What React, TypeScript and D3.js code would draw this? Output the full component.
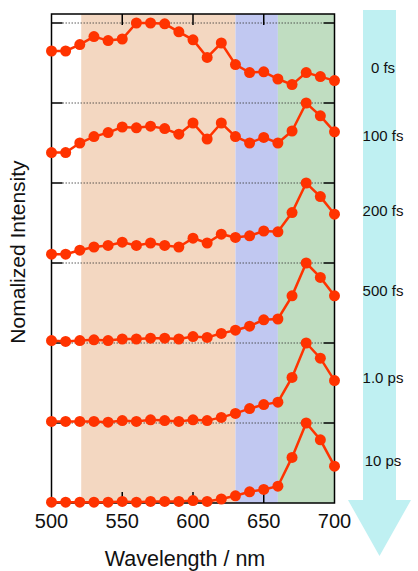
import { useMemo } from "react";
import * as d3 from "d3";

const wavelengths = [500, 510, 520, 530, 540, 550, 560, 570, 580, 590, 600, 610, 620, 630, 640, 650, 660, 670, 680, 690, 700];
const delayLabels = ["0 fs", "100 fs", "200 fs", "500 fs", "1.0 ps", "10 ps"];

const spectrum0fs = [0.65, 0.65, 0.73, 0.83, 0.78, 0.8, 1.0, 1.0, 0.99, 0.89, 0.79, 0.57, 0.75, 0.48, 0.38, 0.39, 0.3, 0.23, 0.38, 0.33, 0.28];
const spectrum100fs = [0.38, 0.38, 0.5, 0.58, 0.63, 0.7, 0.69, 0.71, 0.68, 0.61, 0.75, 0.55, 0.75, 0.58, 0.5, 0.57, 0.5, 0.65, 1.0, 0.84, 0.64];
const spectrum200fs = [0.11, 0.11, 0.16, 0.2, 0.22, 0.26, 0.22, 0.25, 0.22, 0.2, 0.31, 0.25, 0.36, 0.32, 0.34, 0.4, 0.39, 0.63, 1.0, 0.83, 0.61];
const spectrum500fs = [0.03, 0.02, 0.03, 0.04, 0.03, 0.05, 0.05, 0.06, 0.06, 0.05, 0.08, 0.07, 0.12, 0.16, 0.21, 0.29, 0.3, 0.59, 1.0, 0.82, 0.59];
const spectrum1ps = [0.02, 0.02, 0.02, 0.02, 0.01, 0.03, 0.02, 0.04, 0.03, 0.02, 0.04, 0.03, 0.07, 0.12, 0.18, 0.23, 0.26, 0.57, 1.0, 0.81, 0.53];
const spectrum10ps = [0.01, 0.01, 0.01, 0.01, 0.01, 0.02, 0.01, 0.02, 0.02, 0.02, 0.03, 0.02, 0.05, 0.09, 0.14, 0.17, 0.21, 0.57, 1.0, 0.79, 0.46];

const spectra = [spectrum0fs, spectrum100fs, spectrum200fs, spectrum500fs, spectrum1ps, spectrum10ps];

// shaded spectral bands [start, end] in nm
const bandEdges = [
  [521, 630],
  [630, 660],
  [660, 700],
];
const bandColors = ["#f3d7c1", "#c1c8f1", "#c0ddc1"];

const xTicks = [500, 550, 600, 650, 700];
const yTicks = [1, 2, 3, 4, 5, 6];

const width = 418;
const height = 571;
const plot = { left: 51.5, right: 334.5, top: 14, bottom: 503 };
const traceColor = "#ff3300";
const font = "'Liberation Sans', Arial, Helvetica, sans-serif";
const labelY = [68, 136, 211, 291, 378, 461];

export default function App() {
  const x = useMemo(() => d3.scaleLinear().domain([500, 700]).range([plot.left, plot.right]), []);
  const y = useMemo(
    () => d3.scaleLinear().domain([0, (plot.bottom - plot.top) / 80]).range([plot.bottom, plot.top]),
    []
  );

  const line = d3
    .line<number>()
    .x((_, i) => x(wavelengths[i]))
    .y((d) => d);

  const arrow = d3.path();
  arrow.moveTo(363, 10);
  arrow.lineTo(396, 10);
  arrow.lineTo(396, 500);
  arrow.lineTo(411, 500);
  arrow.lineTo(379.5, 556);
  arrow.lineTo(348, 500);
  arrow.lineTo(363, 500);
  arrow.closePath();

  return (
    <svg
      width={width}
      height={height}
      style={{ position: "absolute", left: 0, top: 0, background: "#fff" }}
      fontFamily={font}
    >
      <path d={arrow.toString()} fill="#bff0f2" />

      {bandEdges.map(([a, b], i) => (
        <rect
          key={i}
          x={x(a)}
          y={plot.top}
          width={x(b) - x(a)}
          height={plot.bottom - plot.top}
          fill={bandColors[i]}
        />
      ))}

      {yTicks.map((t) => (
        <g key={t}>
          <line
            x1={plot.left + 11}
            x2={plot.right - 11}
            y1={y(t)}
            y2={y(t)}
            stroke="#333"
            strokeWidth={0.8}
            strokeDasharray="1.5,1.5"
          />
          <line x1={plot.left} x2={plot.left + 11} y1={y(t)} y2={y(t)} stroke="#000" strokeWidth={1.5} />
          <line x1={plot.right - 11} x2={plot.right} y1={y(t)} y2={y(t)} stroke="#000" strokeWidth={1.5} />
        </g>
      ))}

      {xTicks.slice(1, -1).map((t) => (
        <g key={t}>
          <line x1={x(t)} x2={x(t)} y1={plot.top} y2={plot.top + 11} stroke="#000" strokeWidth={1.5} />
          <line x1={x(t)} x2={x(t)} y1={plot.bottom} y2={plot.bottom - 11} stroke="#000" strokeWidth={1.5} />
        </g>
      ))}

      <rect
        x={plot.left}
        y={plot.top}
        width={plot.right - plot.left}
        height={plot.bottom - plot.top}
        fill="none"
        stroke="#000"
        strokeWidth={1.5}
      />

      {spectra.map((values, k) => {
        const offset = spectra.length - 1 - k;
        const ys = values.map((v) => y(offset + v));
        return (
          <g key={k}>
            <path d={line(ys) ?? ""} fill="none" stroke={traceColor} strokeWidth={2.5} />
            {ys.map((py, i) => (
              <circle key={i} cx={x(wavelengths[i])} cy={py} r={5.5} fill={traceColor} />
            ))}
          </g>
        );
      })}

      {xTicks.map((t) => (
        <text key={t} x={x(t)} y={527.5} textAnchor="middle" fontSize={20} fill="#111">
          {t}
        </text>
      ))}

      <text x={185} y={566} textAnchor="middle" fontSize={21.5} fill="#111">
        Wavelength / nm
      </text>
      <text
        transform="translate(25,252) rotate(-90)"
        textAnchor="middle"
        fontSize={21}
        fill="#111"
      >
        Nomalized Intensity
      </text>

      {delayLabels.map((d, i) => (
        <text key={d} x={383} y={labelY[i]} dy="0.35em" textAnchor="middle" fontSize={15} fill="#111">
          {d}
        </text>
      ))}
    </svg>
  );
}
